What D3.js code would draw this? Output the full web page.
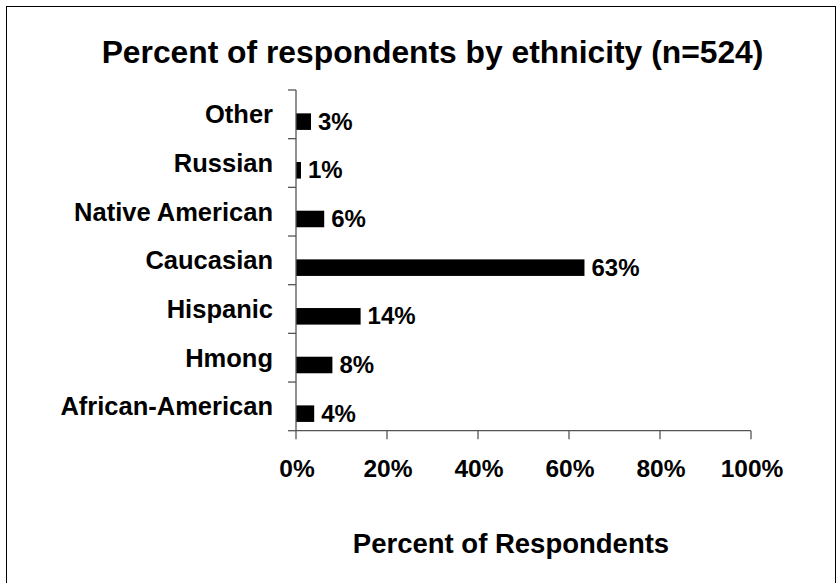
<!DOCTYPE html>
<html>
<head>
<meta charset="utf-8">
<script src="https://cdn.jsdelivr.net/npm/d3@7"></script>
<style>
  html, body { margin: 0; padding: 0; background: #fff; }
  text { font-family: "Liberation Sans", Arial, sans-serif; font-weight: bold; fill: #000; }
</style>
</head>
<body>
<svg id="chart" width="840" height="583"></svg>
<script>
const categories = ["Other", "Russian", "Native American", "Caucasian", "Hispanic", "Hmong", "African-American"];
const values = [3.3, 1.1, 6.2, 63.4, 14.2, 8, 4];
const valueLabels = ["3%", "1%", "6%", "63%", "14%", "8%", "4%"];
const xTicks = [0, 20, 40, 60, 80, 100];
const titleText = "Percent of respondents by ethnicity (n=524)";
const xTitle = "Percent of Respondents";

const svg = d3.select("#chart");

// outer border
svg.append("rect")
  .attr("x", 6.5).attr("y", 6.5)
  .attr("width", 829).attr("height", 590)
  .attr("fill", "none").attr("stroke", "#000").attr("stroke-width", 1);

const plot = { left: 296, right: 751, top: 90, bottom: 430.7 };

const x = d3.scaleLinear().domain([0, 100]).range([plot.left, plot.right]);
const y = d3.scaleBand().domain(categories).range([plot.top, plot.bottom]).padding(0);

// bars
svg.append("g").selectAll("rect")
  .data(categories)
  .join("rect")
  .attr("x", x(0))
  .attr("y", d => y(d) + y.bandwidth() * 0.48)
  .attr("width", (d, i) => x(values[i]) - x(0))
  .attr("height", y.bandwidth() * 0.34)
  .attr("fill", "#000");

// value labels
svg.append("g").selectAll("text")
  .data(categories)
  .join("text")
  .attr("x", (d, i) => x(values[i]) + 7)
  .attr("y", d => y(d) + y.bandwidth() * 0.65 + 8)
  .attr("font-size", 24)
  .text((d, i) => valueLabels[i]);

// y axis line + ticks at band boundaries
const axisColor = "#555";
svg.append("line")
  .attr("x1", plot.left).attr("x2", plot.left)
  .attr("y1", plot.top).attr("y2", plot.bottom)
  .attr("stroke", axisColor).attr("stroke-width", 1.3);
const bounds = categories.map(d => y(d)).concat([plot.bottom]);
svg.append("g").selectAll("line")
  .data(bounds)
  .join("line")
  .attr("x1", plot.left - 8).attr("x2", plot.left)
  .attr("y1", d => d).attr("y2", d => d)
  .attr("stroke", axisColor).attr("stroke-width", 1.3);

// category labels
svg.append("g").selectAll("text")
  .data(categories)
  .join("text")
  .attr("x", 273)
  .attr("y", d => y(d) + y.bandwidth() / 2 + 9)
  .attr("text-anchor", "end")
  .attr("font-size", 25.5)
  .text(d => d);

// x axis line + ticks
svg.append("line")
  .attr("x1", plot.left).attr("x2", plot.right)
  .attr("y1", plot.bottom).attr("y2", plot.bottom)
  .attr("stroke", axisColor).attr("stroke-width", 1.3);
svg.append("g").selectAll("line")
  .data(xTicks)
  .join("line")
  .attr("x1", d => x(d)).attr("x2", d => x(d))
  .attr("y1", plot.bottom).attr("y2", plot.bottom + 8.5)
  .attr("stroke", axisColor).attr("stroke-width", 1.3);
svg.append("g").selectAll("text")
  .data(xTicks)
  .join("text")
  .attr("x", d => x(d) + 1)
  .attr("y", 477)
  .attr("text-anchor", "middle")
  .attr("font-size", 24.5)
  .text(d => d + "%");

// title
svg.append("text")
  .attr("x", 432.5).attr("y", 63)
  .attr("text-anchor", "middle")
  .attr("font-size", 31.8)
  .text(titleText);

// x axis title
svg.append("text")
  .attr("x", 511).attr("y", 553)
  .attr("text-anchor", "middle")
  .attr("font-size", 27.5)
  .text(xTitle);
</script>
</body>
</html>
